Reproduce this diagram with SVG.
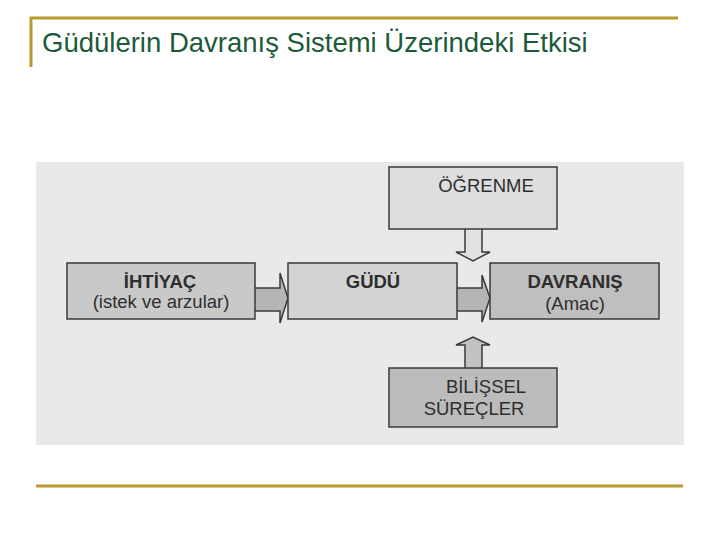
<svg xmlns="http://www.w3.org/2000/svg" width="720" height="540" viewBox="0 0 720 540">
<style>
.box{stroke:#3a3a3a;stroke-width:1.5}
.arr{stroke:#3a3a3a;stroke-width:1.5;stroke-linejoin:miter}
.t{font-family:"Liberation Sans",Arial,sans-serif;fill:#2e2e2e;text-anchor:middle}
.b{font-weight:bold;font-size:18.5px}
.r{font-size:18.5px}
</style>
<rect width="720" height="540" fill="#ffffff"/>
<g id="frame">
<line x1="30" y1="18" x2="678" y2="18" stroke="#b89a2e" stroke-width="3"/>
<line x1="31" y1="17" x2="31" y2="67" stroke="#b89a2e" stroke-width="3"/>
<line x1="36" y1="486" x2="683" y2="486" stroke="#b89a2e" stroke-width="3"/>
<text x="42" y="52" font-family="'Liberation Sans',Arial,sans-serif" font-size="27.5" fill="#1d5a3a">Güdülerin Davranış Sistemi Üzerindeki Etkisi</text>
</g>
<rect x="36" y="162" width="648" height="283" fill="#e9e9e9"/>
<g id="connectors">
<path class="arr" d="M255,288 H280 V273 L288,298 L280,323 V311 H255" fill="#b5b5b5"/>
<path class="arr" d="M457,288 H482 V275 L490,298 L482,322 V311 H457" fill="#b5b5b5"/>
<path class="arr" d="M465,229 V252 H456 L473,261 L490,252 H482 V229" fill="#e2e2e2"/>
<path class="arr" d="M465,368 V345 H456 L473,337 L490,345 H482 V368" fill="#c2c2c2"/>
</g>
<g id="ihtiyac">
<rect class="box" x="67" y="263" width="188" height="56" fill="#c9c9c9"/>
<text class="t b" x="160" y="288">İHTİYAÇ</text>
<text class="t r" x="161" y="308">(istek ve arzular)</text>
</g>
<g id="gudu">
<rect class="box" x="288" y="263" width="169" height="56" fill="#d3d3d3"/>
<text class="t b" x="373" y="288">GÜDÜ</text>
</g>
<g id="davranis">
<rect class="box" x="490" y="263" width="169" height="56" fill="#bfbfbf"/>
<text class="t b" x="575" y="288">DAVRANIŞ</text>
<text class="t r" x="575" y="310">(Amac)</text>
</g>
<g id="ogrenme">
<rect class="box" x="389" y="167" width="168" height="62" fill="#dedede"/>
<text class="t r" x="486" y="192">ÖĞRENME</text>
</g>
<g id="bilissel">
<rect class="box" x="389" y="368" width="168" height="59" fill="#bcbcbc"/>
<text class="t r" x="486" y="393">BİLİŞSEL</text>
<text class="t r" x="474" y="415">SÜREÇLER</text>
</g>
</svg>
